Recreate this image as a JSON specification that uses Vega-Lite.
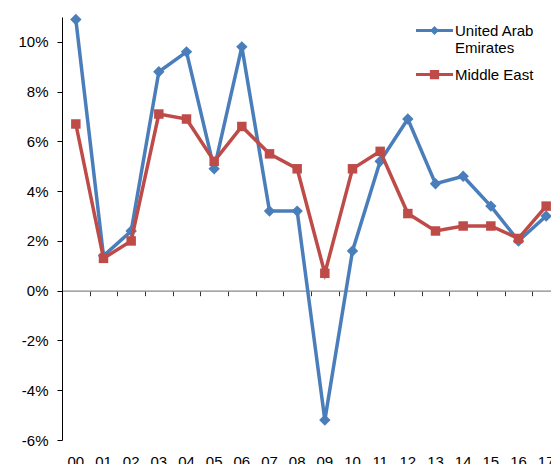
{
  "$schema": "https://vega.github.io/schema/vega-lite/v6.json",
  "width": 498,
  "height": 423,
  "autosize": {"type": "none"},
  "padding": {"left": 62, "top": 17, "right": 0, "bottom": 24},
  "background": "white",
  "config": {
    "view": {"stroke": null},
    "font": "Liberation Sans",
    "axis": {"labelFont": "Liberation Sans", "labelFontSize": 15, "labelColor": "#000", "grid": false, "title": null}
  },
  "data": {"values": [
    {"year": "00", "series": "United Arab Emirates", "value": 10.9},
    {"year": "01", "series": "United Arab Emirates", "value": 1.4},
    {"year": "02", "series": "United Arab Emirates", "value": 2.4},
    {"year": "03", "series": "United Arab Emirates", "value": 8.8},
    {"year": "04", "series": "United Arab Emirates", "value": 9.6},
    {"year": "05", "series": "United Arab Emirates", "value": 4.9},
    {"year": "06", "series": "United Arab Emirates", "value": 9.8},
    {"year": "07", "series": "United Arab Emirates", "value": 3.2},
    {"year": "08", "series": "United Arab Emirates", "value": 3.2},
    {"year": "09", "series": "United Arab Emirates", "value": -5.2},
    {"year": "10", "series": "United Arab Emirates", "value": 1.6},
    {"year": "11", "series": "United Arab Emirates", "value": 5.2},
    {"year": "12", "series": "United Arab Emirates", "value": 6.9},
    {"year": "13", "series": "United Arab Emirates", "value": 4.3},
    {"year": "14", "series": "United Arab Emirates", "value": 4.6},
    {"year": "15", "series": "United Arab Emirates", "value": 3.4},
    {"year": "16", "series": "United Arab Emirates", "value": 2.0},
    {"year": "17", "series": "United Arab Emirates", "value": 3.0},
    {"year": "00", "series": "Middle East", "value": 6.7},
    {"year": "01", "series": "Middle East", "value": 1.3},
    {"year": "02", "series": "Middle East", "value": 2.0},
    {"year": "03", "series": "Middle East", "value": 7.1},
    {"year": "04", "series": "Middle East", "value": 6.9},
    {"year": "05", "series": "Middle East", "value": 5.2},
    {"year": "06", "series": "Middle East", "value": 6.6},
    {"year": "07", "series": "Middle East", "value": 5.5},
    {"year": "08", "series": "Middle East", "value": 4.9},
    {"year": "09", "series": "Middle East", "value": 0.7},
    {"year": "10", "series": "Middle East", "value": 4.9},
    {"year": "11", "series": "Middle East", "value": 5.6},
    {"year": "12", "series": "Middle East", "value": 3.1},
    {"year": "13", "series": "Middle East", "value": 2.4},
    {"year": "14", "series": "Middle East", "value": 2.6},
    {"year": "15", "series": "Middle East", "value": 2.6},
    {"year": "16", "series": "Middle East", "value": 2.1},
    {"year": "17", "series": "Middle East", "value": 3.4}
  ]},
  "encoding": {
    "y": {
      "field": "value", "type": "quantitative",
      "scale": {"domain": [-6, 11], "nice": false, "zero": false},
      "axis": {"values": [-6, -4, -2, 0, 2, 4, 6, 8, 10], "labelExpr": "datum.value + '%'", "domainColor": "#000", "tickColor": "#000", "tickSize": 5, "labelPadding": 9, "title": null}
    },
    "color": {
      "field": "series", "type": "nominal",
      "scale": {"domain": ["United Arab Emirates", "Middle East"], "range": ["#4A7EBB", "#BE4B48"]},
      "legend": {
        "orient": "none", "legendX": 354, "legendY": -5, "title": null,
        "symbolSize": 1369, "labelFontSize": 15, "labelFont": "Liberation Sans", "labelColor": "#000",
        "labelOffset": 2, "rowPadding": -1, "labelLimit": 0,
        "labelExpr": "datum.label == 'United Arab Emirates' ? ['United Arab', 'Emirates'] : datum.label",
        "encode": {"symbols": {"update": {
          "shape": {"signal": "datum.value === 'Middle East' ? 'M-1,-0.085H1V0.085H-1Z M-0.25,-0.25H0.25V0.25H-0.25Z' : 'M-1,-0.085H1V0.085H-1Z M0,-0.24L0.24,0L0,0.24L-0.24,0Z'"},
          "fill": {"signal": "scale('color', datum.value)"},
          "stroke": {"value": "transparent"},
          "strokeWidth": {"value": 0},
          "opacity": {"value": 1}
        }}}
      }
    }
  },
  "layer": [
    {
      "transform": [{"filter": "datum.series === 'United Arab Emirates'"}],
      "mark": {"type": "line", "strokeWidth": 3.5},
      "encoding": {
        "x": {"field": "year", "type": "ordinal", "sort": null, "bandPosition": 0.5,
          "scale": {"type": "band", "paddingInner": 0, "paddingOuter": 0},
          "axis": {"orient": "bottom", "domain": false, "ticks": false, "tickSize": 0, "labelPadding": 14, "labelAngle": 0, "labelBaseline": "top"}}
      }
    },
    {
      "transform": [{"filter": "datum.series === 'United Arab Emirates'"}],
      "mark": {"type": "point", "shape": "diamond", "filled": true, "opacity": 1, "size": 130},
      "encoding": {
        "x": {"field": "year", "type": "ordinal", "sort": null, "bandPosition": 0.5,
          "scale": {"type": "band", "paddingInner": 0, "paddingOuter": 0},
          "axis": {"orient": "bottom", "offset": -149.3, "domain": true, "domainColor": "#888888", "domainWidth": 1.3, "ticks": true, "tickColor": "#333", "tickSize": 5, "tickBand": "extent", "labels": false}}
      }
    },
    {
      "transform": [{"filter": "datum.series === 'Middle East'"}],
      "mark": {"type": "line", "strokeWidth": 3.5},
      "encoding": {
        "x": {"field": "year", "type": "ordinal", "sort": null, "bandPosition": 0.5,
          "scale": {"type": "band", "paddingInner": 0, "paddingOuter": 0}, "axis": null}
      }
    },
    {
      "transform": [{"filter": "datum.series === 'Middle East'"}],
      "mark": {"type": "point", "shape": "square", "filled": true, "opacity": 1, "size": 90},
      "encoding": {
        "x": {"field": "year", "type": "ordinal", "sort": null, "bandPosition": 0.5,
          "scale": {"type": "band", "paddingInner": 0, "paddingOuter": 0}, "axis": null}
      }
    }
  ],
  "resolve": {"axis": {"x": "independent"}}
}
